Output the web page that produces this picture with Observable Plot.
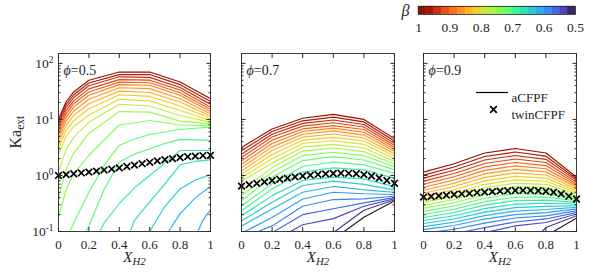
<!DOCTYPE html>
<html><head><meta charset="utf-8">
<script src="https://cdn.jsdelivr.net/npm/d3@7"></script>
<script src="https://cdn.jsdelivr.net/npm/@observablehq/plot@0.6"></script>
<style>
body{margin:0;background:#fff;}
#chart{position:relative;width:598px;height:272px;overflow:hidden;font-family:"Liberation Serif",serif;}
#chart svg, #chart svg text, #chart svg tspan{font-family:"Liberation Serif",serif !important;}
</style></head><body><div id="chart"></div>
<script>
// ---------- data ----------
const betaLevels = [0.98,0.96,0.94,0.92,0.90,0.88,0.86,0.84,0.82,0.80,0.78,0.76,0.74,0.72,0.70,0.68,0.66,0.64,0.62,0.60,0.58,0.56,0.54,0.52,0.50];

// phi = 0.5 : log10(Ka_ext) of each beta contour at xGridPhi05 (null = no point)
const xGridPhi05 = [0,0.05,0.1,0.2,0.3,0.4,0.5,0.6,0.7,0.8,0.9,0.95,1];
const logKaPhi05 = [
 [1.0,1.315,1.49,1.70,null,1.845,null,1.845,null,1.667,null,null,1.37],
 [0.95,1.265,1.44,1.65,null,1.80,null,1.80,null,1.62,null,null,1.32],
 [0.9,1.215,1.39,1.60,null,1.76,null,1.75,null,1.57,null,null,1.27],
 [0.84,1.157,1.33,1.545,null,1.71,null,1.70,null,1.525,null,null,1.22],
 [0.78,1.10,1.28,1.49,null,1.665,null,1.655,null,1.475,null,null,1.18],
 [0.72,1.04,1.22,1.43,null,1.62,null,1.61,null,1.43,null,null,1.14],
 [0.65,0.97,1.15,1.36,null,1.565,null,1.55,null,1.37,null,null,1.10],
 [0.57,0.89,1.07,1.28,null,1.505,null,1.48,null,1.31,null,null,1.06],
 [0.48,0.80,0.98,1.19,null,1.44,null,1.41,null,1.24,null,null,1.02],
 [0.38,0.695,0.87,1.08,null,1.36,null,1.33,null,1.16,null,null,0.98],
 [0.06,0.46,0.68,0.95,null,1.27,null,1.24,null,1.07,null,null,0.95],
 [-0.41,0.11,0.40,0.75,null,1.14,null,1.13,null,0.97,null,null,0.92],
 [-0.75,-0.25,0.03,0.36,null,0.9,null,0.98,null,0.9,null,null,0.89],
 [null,-1.15,-0.85,-0.3,0.18,0.54,0.65,0.73,null,0.82,null,null,0.863],
 [null,null,-1.5,-0.9,-0.25,0.24,0.38,0.476,0.57,0.643,null,null,0.625],
 [null,null,null,-1.4,-0.85,-0.5,-0.22,0.0,0.22,0.446,0.446,null,0.446],
 [null,null,null,null,null,-1.5,-0.8,-0.47,-0.15,0.19,0.25,null,0.28],
 [null,null,null,null,null,null,-1.6,-1.0,-0.55,-0.24,-0.08,null,0.012],
 [null,null,null,null,null,null,null,-1.8,-1.1,-0.68,-0.4,null,-0.196],
 [null,null,null,null,null,null,null,null,null,-1.8,-1.1,-0.8,-0.61]
];

// phi = 0.7 and 0.9 : log10(Ka_ext) at xGrid
const xGrid = [0,0.2,0.4,0.6,0.8,1];
const logKaPhi07 = [
 [0.5,0.83,1.02,1.09,1.0,0.655],
 [0.44,0.785,0.975,1.04,0.955,0.613],
 [0.38,0.735,0.93,0.99,0.91,0.571],
 [0.32,0.685,0.88,0.94,0.865,0.536],
 [0.26,0.63,0.83,0.89,0.82,0.5],
 [0.2,0.57,0.785,0.845,0.77,0.464],
 [0.14,0.51,0.735,0.795,0.72,0.429],
 [0.08,0.445,0.685,0.74,0.67,0.387],
 [0.02,0.375,0.63,0.68,0.615,0.345],
 [-0.04,0.3,0.57,0.62,0.555,0.298],
 [-0.1,0.22,0.505,0.555,0.49,0.25],
 [-0.27,0.14,0.435,0.49,0.425,0.205],
 [-0.36,0.06,0.355,0.415,0.355,0.155],
 [-0.45,-0.03,0.265,0.335,0.275,0.1],
 [-0.54,-0.15,0.16,0.24,0.19,0.035],
 [-0.63,-0.24,0.06,0.135,0.1,-0.05],
 [-0.72,-0.36,-0.09,-0.03,-0.06,-0.2],
 [-0.81,-0.48,-0.18,-0.1,-0.16,-0.26],
 [-0.9,-0.6,-0.3,-0.196,-0.256,-0.3],
 [-1.03,-0.75,-0.42,-0.3,-0.327,-0.34],
 [-1.12,-0.9,-0.55,-0.43,-0.417,-0.37],
 [-1.25,-1.02,-0.7,-0.595,-0.49,-0.395],
 [-1.45,-1.18,-0.88,-0.77,-0.55,-0.415],
 [-2.5,-2.0,-1.5,-1.02,-0.62,-0.435],
 [-3,-2.5,-1.8,-1.14,-0.745,-0.455]
];
const logKaPhi09 = [
 [0.06,0.21,0.40,0.48,0.40,-0.03],
 [0.006,0.152,0.338,0.418,0.344,-0.06],
 [-0.048,0.094,0.276,0.356,0.288,-0.09],
 [-0.102,0.036,0.214,0.294,0.232,-0.12],
 [-0.156,-0.022,0.152,0.232,0.176,-0.15],
 [-0.21,-0.08,0.09,0.17,0.12,-0.18],
 [-0.264,-0.138,0.028,0.108,0.064,-0.21],
 [-0.318,-0.196,-0.034,0.046,0.008,-0.24],
 [-0.372,-0.254,-0.096,-0.016,-0.048,-0.27],
 [-0.426,-0.312,-0.158,-0.078,-0.104,-0.30],
 [-0.48,-0.37,-0.22,-0.14,-0.16,-0.33],
 [-0.534,-0.428,-0.282,-0.202,-0.216,-0.36],
 [-0.588,-0.486,-0.344,-0.264,-0.272,-0.39],
 [-0.642,-0.544,-0.406,-0.326,-0.328,-0.42],
 [-0.696,-0.602,-0.468,-0.388,-0.384,-0.45],
 [-0.75,-0.66,-0.53,-0.45,-0.44,-0.48],
 [-0.804,-0.718,-0.592,-0.512,-0.496,-0.51],
 [-0.858,-0.776,-0.654,-0.574,-0.552,-0.54],
 [-0.912,-0.834,-0.716,-0.636,-0.608,-0.57],
 [-0.966,-0.892,-0.778,-0.698,-0.664,-0.60],
 [-1.03,-0.96,-0.85,-0.76,-0.72,-0.63],
 [-1.1,-1.04,-0.93,-0.83,-0.776,-0.66],
 [-1.2,-1.12,-1.02,-0.9,-0.84,-0.69],
 [-3,-2.5,-2,-1.5,-0.93,-0.72],
 [-3,-2.6,-2.2,-1.8,-1.08,-0.76]
];

// twinCFPF points: log10(Ka_ext)
const xTwin = [0,0.05,0.1,0.15,0.2,0.25,0.3,0.35,0.4,0.45,0.5,0.55,0.6,0.65,0.7,0.75,0.8,0.85,0.9,0.95,1];
const logKaTwinPhi05 = [0,0.015,0.03,0.045,0.06,0.078,0.096,0.114,0.135,0.16,0.185,0.21,0.235,0.26,0.28,0.3,0.32,0.335,0.345,0.355,0.36];
const logKaTwinPhi07 = [-0.19,-0.165,-0.14,-0.115,-0.09,-0.068,-0.047,-0.027,-0.01,0.005,0.018,0.028,0.035,0.04,0.038,0.03,0.015,-0.01,-0.045,-0.09,-0.14];
const logKaTwinPhi09 = [-0.385,-0.375,-0.365,-0.352,-0.34,-0.33,-0.32,-0.308,-0.298,-0.288,-0.28,-0.273,-0.268,-0.266,-0.268,-0.273,-0.282,-0.3,-0.33,-0.37,-0.42];

const phiLabels = ["ϕ=0.5","ϕ=0.7","ϕ=0.9"];
const xTicks = [0,0.2,0.4,0.6,0.8,1];
const xTickLabels = ["0","0.2","0.4","0.6","0.8","1"];
const yMajor = [0.1,1,10,100];
const yMajorLabels = ["10^-1","10^0","10^1","10^2"];
const yMinor = [0.2,0.3,0.4,0.5,0.6,0.7,0.8,0.9,2,3,4,5,6,7,8,9,20,30,40,50,60,70,80,90];
const cbTicks = [1,0.9,0.8,0.7,0.6,0.5];
const cbTickLabels = ["1","0.9","0.8","0.7","0.6","0.5"];
const cbSteps = 20;
const legendLabels = ["aCFPF","twinCFPF"];

// ---------- drawing ----------
const ink = "#262626";
const serif = "Liberation Serif";
const turboAt = b => d3.interpolateTurbo((b - 0.5) / 0.5);
const xLabelMap = new Map(xTicks.map((t,i)=>[t,xTickLabels[i]]));
const yLabelMap = new Map(yMajor.map((t,i)=>[t,yMajorLabels[i]]));
const cbLabelMap = new Map(cbTicks.map((t,i)=>[t,cbTickLabels[i]]));
const chart = document.getElementById("chart");

function toRows(grid, table){
  const rows=[];
  table.forEach((vals,k)=>vals.forEach((v,j)=>{ if(v!==null) rows.push({x:grid[j], Ka:Math.pow(10,v), beta:betaLevels[k], c:turboAt(betaLevels[k])}); }));
  return rows;
}

function richText(svg){
  svg.querySelectorAll("text").forEach(t=>{
    const s = t.textContent;
    let m;
    if(s==="X_H2") t.innerHTML='X<tspan dy="0.3em" font-size="0.72em">H2</tspan>';
    else if(s==="Ka_ext") t.innerHTML='Ka<tspan dy="0.3em" font-size="0.72em">ext</tspan>';
    else if((m=s.match(/^10\^(.+)$/))) t.innerHTML='10<tspan dy="-0.5em" font-size="0.7em">'+m[1]+'</tspan>';
    else if(s.startsWith("ϕ")) t.innerHTML='<tspan font-style="italic">ϕ</tspan>'+s.slice(1);
  });
}

function place(svg, left){
  svg.style.position="absolute"; svg.style.left=left+"px"; svg.style.top="0px";
  chart.appendChild(svg);
}

const panels = [
  {left:0,   width:226, mL:58, mR:16, grid:xGridPhi05, table:logKaPhi05, twin:logKaTwinPhi05, phi:phiLabels[0], ylab:true},
  {left:226, width:170, mL:15, mR:2,  grid:xGrid, table:logKaPhi07, twin:logKaTwinPhi07, phi:phiLabels[1], ylab:false},
  {left:396, width:202, mL:27, mR:22, grid:xGrid, table:logKaPhi09, twin:logKaTwinPhi09, phi:phiLabels[2], ylab:false, legend:true}
];

panels.forEach(p=>{
  const rows = toRows(p.grid, p.table);
  const crosses = xTwin.map((x,i)=>({x, Ka:Math.pow(10,p.twin[i])}));
  const marks = [
    Plot.line(rows, {x:"x", y:"Ka", z:"beta", stroke:"c", strokeWidth:1.15, clip:true}),
    Plot.dot(crosses, {x:"x", y:"Ka", symbol:"times", r:3.1, stroke:"#000", strokeWidth:1.7}),
    Plot.frame({stroke:ink, strokeWidth:0.9}),
    Plot.axisX(xTicks, {anchor:"bottom", tickSize:-4, tickPadding:12, tickFormat:d=>xLabelMap.get(d), label:null, fontSize:13, fontFamily:serif}),
    Plot.axisX(xTicks, {anchor:"top", tickSize:-4, tickFormat:()=>"", label:null}),
    Plot.axisY(yMajor, {anchor:"left", tickSize:-4.5, tickPadding:9.5, tickFormat:p.ylab ? (d=>yLabelMap.get(d)) : (()=>""), label:null, fontSize:13.5, fontFamily:serif}),
    Plot.axisY(yMinor, {anchor:"left", tickSize:-2.5, tickFormat:()=>"", label:null}),
    Plot.axisY(yMajor, {anchor:"right", tickSize:-4.5, tickFormat:()=>"", label:null}),
    Plot.axisY(yMinor, {anchor:"right", tickSize:-2.5, tickFormat:()=>"", label:null}),
    Plot.text(["X_H2"], {frameAnchor:"bottom", dy:30, fontSize:15, fontStyle:"italic", fontFamily:serif, fill:ink}),
    Plot.text([p.phi], {frameAnchor:"top-left", dx:5, dy:12, textAnchor:"start", fontSize:14, fontFamily:serif, fill:ink})
  ];
  if(p.ylab) marks.push(Plot.text(["Ka_ext"], {frameAnchor:"left", dx:-43, dy:6, rotate:-90, fontSize:16, fontFamily:serif, fill:ink}));
  if(p.legend){
    marks.push(Plot.text([legendLabels[0]], {frameAnchor:"top-left", dx:88, dy:39.5, textAnchor:"start", fontSize:13, fontFamily:serif, fill:ink}));
    marks.push(Plot.text([legendLabels[1]], {frameAnchor:"top-left", dx:88, dy:56, textAnchor:"start", fontSize:13, fontFamily:serif, fill:ink}));
    marks.push(Plot.dot([0], {frameAnchor:"top-left", dx:70, dy:56, symbol:"times", r:3.1, stroke:"#000", strokeWidth:1.7}));
  }
  const svg = Plot.plot({
    width:p.width, height:272, marginLeft:p.mL, marginRight:p.mR, marginTop:53, marginBottom:41,
    x:{domain:[0,1]}, y:{type:"log", domain:[0.1,150]}, color:{type:"identity"},
    style:{background:"transparent", fontFamily:serif, fontSize:"13px", color:ink, overflow:"visible"},
    marks
  });
  if(p.legend){
    d3.select(svg).append("line").attr("x1",80).attr("x2",112).attr("y1",92.5).attr("y2",92.5)
      .attr("stroke","#000").attr("stroke-width",1.2);
  }
  richText(svg);
  place(svg, p.left);
});

// colorbar
const cbBlocks = d3.range(cbSteps).map(k=>{
  const hi = 1 - k*(0.5/cbSteps), lo = 1 - (k+1)*(0.5/cbSteps);
  return {hi, lo, c: turboAt((hi+lo)/2)};
});
const cb = Plot.plot({
  width:240, height:40, marginLeft:60, marginRight:23, marginTop:6, marginBottom:26,
  x:{domain:[1,0.5]}, color:{type:"identity"},
  style:{background:"transparent", fontFamily:serif, fontSize:"13px", color:ink, overflow:"visible"},
  marks:[
    Plot.rect(cbBlocks, {x1:"hi", x2:"lo", fill:"c", stroke:"c", strokeWidth:0.4}),
    Plot.frame({stroke:ink, strokeWidth:0.8}),
    Plot.axisX(cbTicks, {anchor:"bottom", tickSize:0, tickPadding:8, tickFormat:d=>cbLabelMap.get(d), label:null, fontSize:13.5, fontFamily:serif}),
    Plot.text(["β"], {frameAnchor:"left", dx:-17, fontStyle:"italic", fontSize:16, fontFamily:serif, fill:ink})
  ]
});
place(cb, 358);
</script></body></html>
